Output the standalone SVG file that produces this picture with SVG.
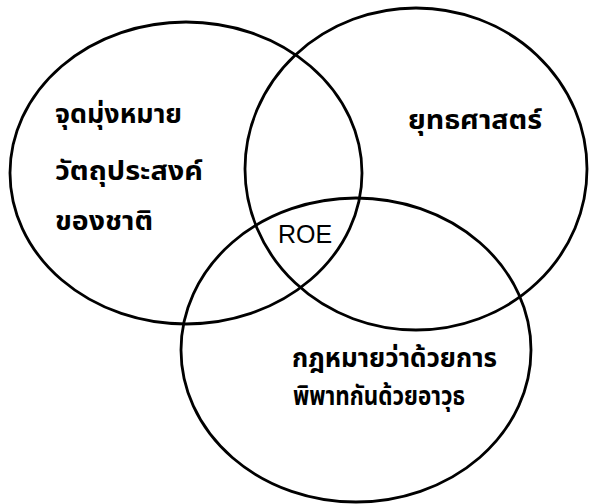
<svg xmlns="http://www.w3.org/2000/svg" width="590" height="504" viewBox="0 0 590 504">
<style>
.c{fill:none;stroke:#000;stroke-width:2.8}
.t{font-family:"Noto Sans Thai","Noto Sans","DejaVu Sans",sans-serif;font-size:27px;font-weight:bold;fill:#000}
.r{font-family:"Liberation Sans",Arial,sans-serif;font-size:25px;fill:#000}
</style>
<rect width="590" height="504" fill="#fff"/>
<g id="goals">
<ellipse class="c" cx="186" cy="173" rx="176" ry="151"/>
<text class="t" x="55" y="123" textLength="127" lengthAdjust="spacingAndGlyphs">จุดมุ่งหมาย</text>
<text class="t" x="55" y="180" textLength="148" lengthAdjust="spacingAndGlyphs">วัตถุประสงค์</text>
<text class="t" x="55" y="230" textLength="98" lengthAdjust="spacingAndGlyphs">ของชาติ</text>
</g>
<g id="strategy">
<ellipse class="c" cx="416" cy="169" rx="171" ry="161"/>
<text class="t" x="408" y="129" textLength="134" lengthAdjust="spacingAndGlyphs">ยุทธศาสตร์</text>
</g>
<g id="law">
<ellipse class="c" cx="356" cy="350" rx="175" ry="152"/>
<text class="t" x="292" y="367" textLength="205" lengthAdjust="spacingAndGlyphs">กฎหมายว่าด้วยการ</text>
<text class="t" x="293" y="405" textLength="172" lengthAdjust="spacingAndGlyphs">พิพาทกันด้วยอาวุธ</text>
</g>
<g id="roe">
<text class="r" x="278" y="243">ROE</text>
</g>
</svg>
